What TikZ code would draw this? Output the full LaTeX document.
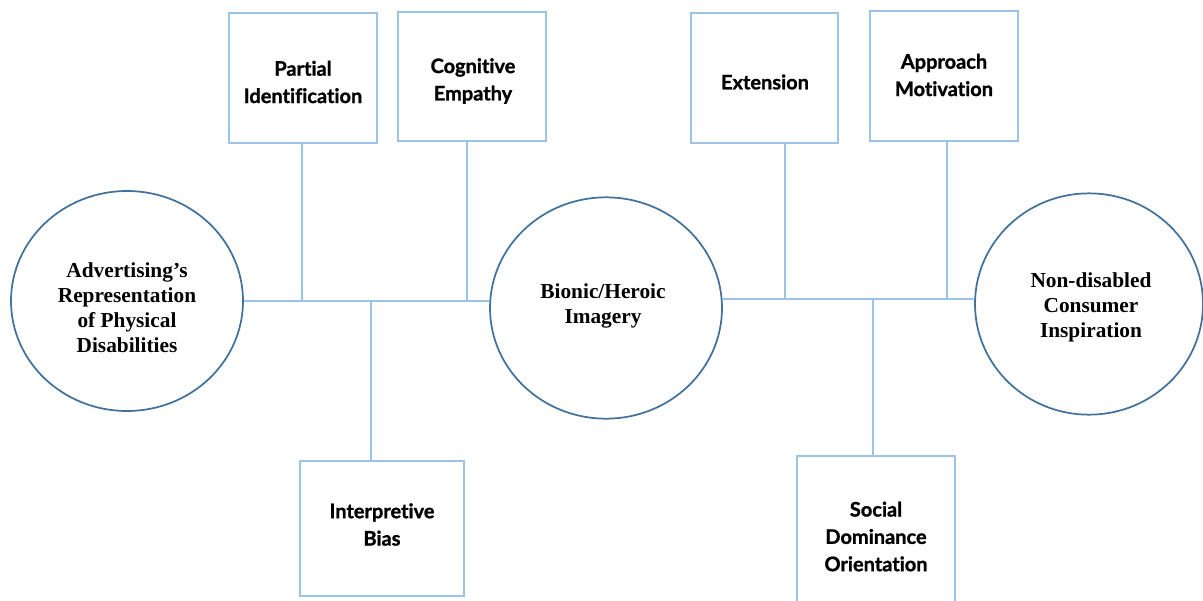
\documentclass[tikz,border=0pt]{standalone}
\usepackage{fontspec}
\setmainfont{Liberation Serif}
\newfontfamily\boxfont[Ligatures=NoCommon, BoldFeatures={FakeBold=1.2}]{Lato}
\usetikzlibrary{shapes.geometric}
\definecolor{ringblue}{RGB}{65,113,156}
\definecolor{lineblue}{RGB}{157,195,230}
\tikzset{
  construct/.style={ellipse, draw=ringblue, line width=1.3pt, inner sep=0pt},
  constructtext/.style={inner sep=0pt, align=center,
    font=\fontsize{16}{18.8}\selectfont\bfseries},
  factor/.style={rectangle, draw=lineblue, line width=1pt, inner sep=0pt},
  factortext/.style={inner sep=0pt, align=center,
    font=\boxfont\fontsize{15}{20.5}\selectfont\bfseries},
  link/.style={draw=lineblue, line width=0.8pt}
}
\begin{document}
\begin{tikzpicture}[x=0.75pt, y=-0.75pt]
  \useasboundingbox (0,0) rectangle (1203,600);
  \clip (0,0) rectangle (1203,600);

  % main constructs
  \node[construct, minimum width=174pt, minimum height=165pt] (adv) at (127,301) {};
  \node[constructtext] (advt) at (127,308)
    {Advertising’s\\Representation\\of Physical\\Disabilities};
  \node[construct, minimum width=174pt, minimum height=166pt] (bio) at (606,308) {};
  \node[constructtext] (biot) at (603,306) {Bionic/Heroic\\Imagery};
  \node[construct, minimum width=171pt, minimum height=166pt] (ins) at (1089,304) {};
  \node[constructtext] (inst) at (1091,307) {Non-disabled\\Consumer\\Inspiration};

  % factors above the spine
  \node[factor, minimum width=111pt, minimum height=97.5pt] (pid) at (303,78) {};
  \node[factortext] (pidt) at (303,82) {Partial\\Identification};
  \node[factor, minimum width=111pt, minimum height=96.75pt] (cem) at (472,76.5) {};
  \node[factortext] (cemt) at (473,81) {Cognitive\\Empathy};
  \node[factor, minimum width=110.25pt, minimum height=97.5pt] (ext) at (764.5,78) {};
  \node[factortext] (extt) at (765,82) {Extension};
  \node[factor, minimum width=111pt, minimum height=97.5pt] (apm) at (944,76) {};
  \node[factortext] (apmt) at (944,75) {Approach\\Motivation};

  % factors below the spine
  \node[factor, minimum width=123pt, minimum height=101.25pt] (ibi) at (382,528.5) {};
  \node[factortext] (ibit) at (382,524.5) {Interpretive\\Bias};
  \node[factor, minimum width=118.5pt, minimum height=120pt] (sdo) at (876,536) {};
  \node[factortext] (sdot) at (876,536.5) {Social\\Dominance\\Orientation};

  % junctions on the spine
  \coordinate (j1) at (302,301);
  \coordinate (j2) at (467,301);
  \coordinate (j3) at (371,301);
  \coordinate (j4) at (785,299);
  \coordinate (j5) at (947,299);
  \coordinate (j6) at (873,299);

  % spine
  \draw[link] (adv.east) -- (adv.east -| bio.west);
  \draw[link] (bio.east |- j4) -- (j4 -| ins.west);

  % branches
  \draw[link] (pid.south -| j1) -- (j1);
  \draw[link] (cem.south -| j2) -- (j2);
  \draw[link] (ibi.north -| j3) -- (j3);
  \draw[link] (ext.south -| j4) -- (j4);
  \draw[link] (apm.south -| j5) -- (j5);
  \draw[link] (sdo.north -| j6) -- (j6);
\end{tikzpicture}
\end{document}
